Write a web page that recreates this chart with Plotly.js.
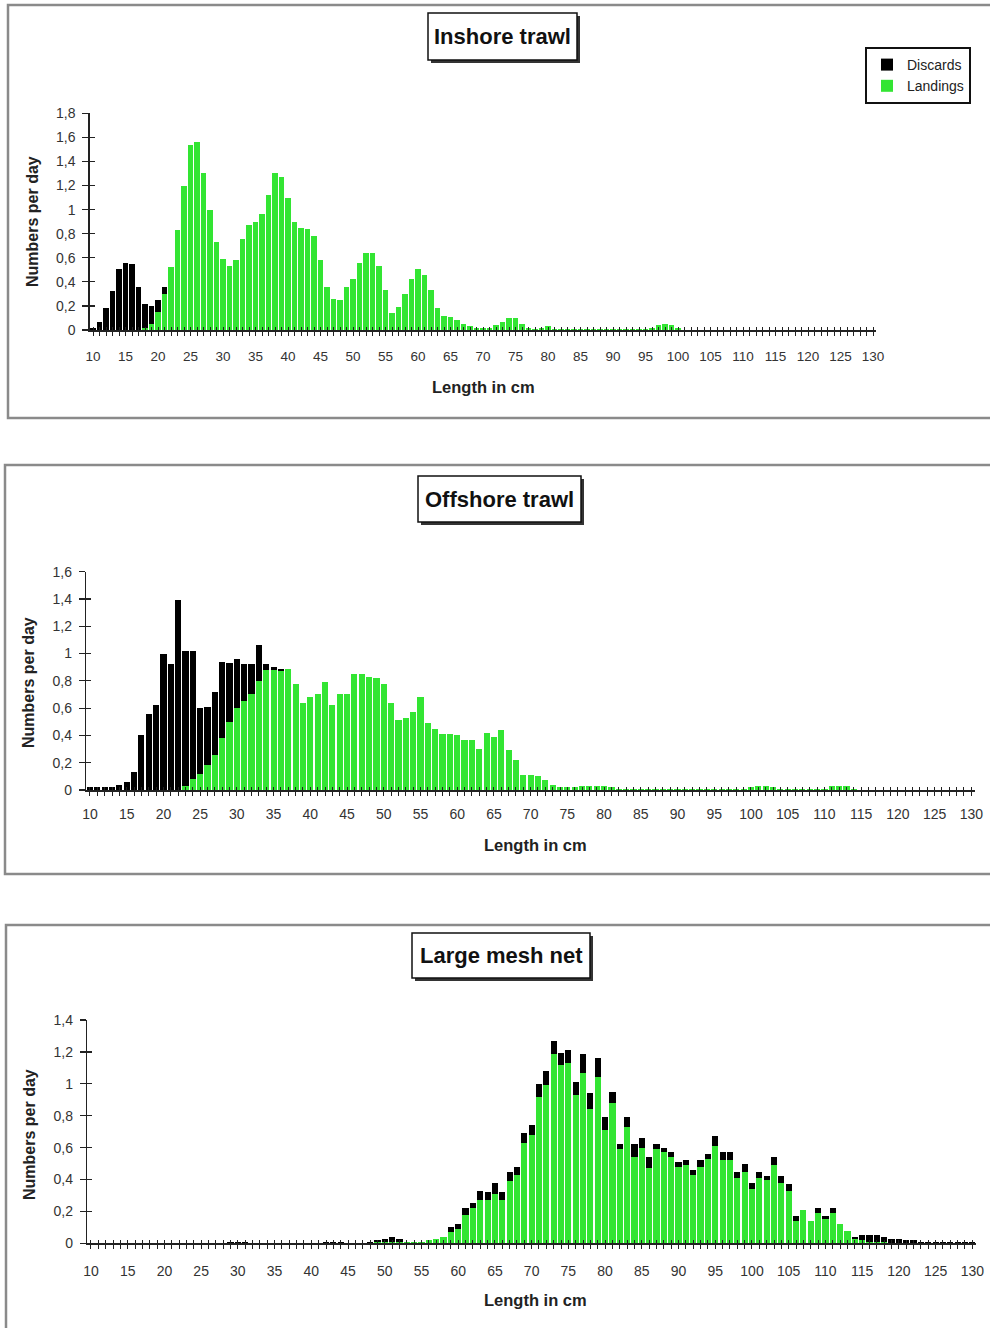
<!DOCTYPE html>
<html><head><meta charset="utf-8">
<script src="https://cdn.plot.ly/plotly-3.0.1.min.js"></script>
<style>html,body{margin:0;padding:0;background:#fff}#chart{width:990px;height:1328px}</style>
</head><body><div id="chart"></div>
<script>
// Length classes (cm)
const lengths = [10,11,12,13,14,15,16,17,18,19,20,21,22,23,24,25,26,27,28,29,30,31,32,33,34,35,36,37,38,39,40,41,42,43,44,45,46,47,48,49,50,51,52,53,54,55,56,57,58,59,60,61,62,63,64,65,66,67,68,69,70,71,72,73,74,75,76,77,78,79,80,81,82,83,84,85,86,87,88,89,90,91,92,93,94,95,96,97,98,99,100,101,102,103,104,105,106,107,108,109,110,111,112,113,114,115,116,117,118,119,120,121,122,123,124,125,126,127,128,129,130];

// Inshore trawl
const inshoreLandings = [
 0,0,0,0,0,0,0,0,0.02,0.05,
 0.15,0.3,0.52,0.83,1.2,1.54,1.56,1.3,1.0,0.73,
 0.59,0.53,0.58,0.76,0.87,0.9,0.96,1.12,1.3,1.27,
 1.1,0.9,0.85,0.84,0.78,0.58,0.36,0.26,0.25,0.36,
 0.42,0.56,0.64,0.64,0.53,0.33,0.14,0.19,0.3,0.42,
 0.51,0.46,0.33,0.18,0.12,0.11,0.08,0.05,0.03,0.02,
 0.02,0.02,0.04,0.07,0.1,0.1,0.05,0.02,0.01,0.02,
 0.03,0.01,0.01,0.01,0.01,0.01,0.01,0.01,0.01,0.01,
 0.01,0.01,0.01,0.01,0.01,0.01,0.02,0.04,0.05,0.04,
 0.02,0,0,0,0,0,0,0,0,0,
 0,0,0,0,0,0,0,0,0,0,
 0,0,0,0,0,0,0,0,0,0,
 0];
const inshoreDiscards = [
 0.02,0.07,0.18,0.32,0.51,0.56,0.55,0.36,0.2,0.15,
 0.1,0.06,0,0,0,0,0,0,0,0,
 0,0,0,0,0,0,0,0,0,0,
 0,0,0,0,0,0,0,0,0,0,
 0,0,0,0,0,0,0,0,0,0,
 0,0,0,0,0,0,0,0,0,0,
 0,0,0,0,0,0,0,0,0,0,
 0,0,0,0,0,0,0,0,0,0,
 0,0,0,0,0,0,0,0,0,0,
 0,0,0,0,0,0,0,0,0,0,
 0,0,0,0,0,0,0,0,0,0,
 0,0,0,0,0,0,0,0,0,0,
 0];

// Offshore trawl
const offshoreLandings = [
 0,0,0,0,0,0,0,0,0,0,
 0,0,0,0.03,0.08,0.12,0.18,0.26,0.38,0.5,
 0.6,0.65,0.7,0.8,0.88,0.88,0.87,0.89,0.78,0.64,
 0.68,0.7,0.79,0.62,0.7,0.7,0.85,0.85,0.83,0.82,
 0.78,0.64,0.51,0.53,0.57,0.68,0.49,0.45,0.41,0.41,
 0.4,0.37,0.37,0.3,0.42,0.39,0.44,0.29,0.22,0.11,
 0.11,0.1,0.07,0.04,0.02,0.02,0.02,0.03,0.03,0.03,
 0.03,0.02,0.01,0.01,0.01,0.01,0.01,0.01,0.01,0.01,
 0.01,0.01,0.01,0.01,0.01,0.01,0.01,0.01,0.01,0.01,
 0.02,0.03,0.03,0.02,0.01,0.01,0.01,0.01,0.01,0.01,
 0.01,0.03,0.03,0.03,0.01,0,0,0,0,0,
 0,0,0,0,0,0,0,0,0,0,
 0];
const offshoreDiscards = [
 0.02,0.02,0.02,0.02,0.04,0.06,0.13,0.4,0.56,0.62,
 1.0,0.92,1.39,0.99,0.94,0.48,0.43,0.46,0.56,0.43,
 0.36,0.27,0.22,0.26,0.04,0.02,0.02,0,0,0,
 0,0,0,0,0,0,0,0,0,0,
 0,0,0,0,0,0,0,0,0,0,
 0,0,0,0,0,0,0,0,0,0,
 0,0,0,0,0,0,0,0,0,0,
 0,0,0,0,0,0,0,0,0,0,
 0,0,0,0,0,0,0,0,0,0,
 0,0,0,0,0,0,0,0,0,0,
 0,0,0,0,0,0,0,0,0,0,
 0,0,0,0,0,0,0,0,0,0,
 0];

// Large mesh net
const meshLandings = [
 0,0,0,0,0,0,0,0,0,0,
 0,0,0,0,0,0,0,0,0,0,
 0,0,0,0,0,0,0,0,0,0,
 0,0,0,0,0,0,0,0,0,0.01,
 0.01,0.01,0.01,0.01,0.01,0.01,0.02,0.03,0.04,0.07,
 0.09,0.18,0.22,0.27,0.27,0.31,0.27,0.39,0.43,0.63,
 0.68,0.92,0.99,1.19,1.12,1.13,0.93,1.07,0.84,1.04,
 0.71,0.88,0.59,0.73,0.54,0.6,0.47,0.59,0.57,0.54,
 0.48,0.49,0.43,0.48,0.53,0.61,0.52,0.52,0.41,0.45,
 0.34,0.41,0.4,0.49,0.38,0.33,0.14,0.21,0.14,0.19,
 0.15,0.19,0.12,0.08,0.03,0.02,0.01,0.01,0.01,0,
 0,0,0,0,0,0,0,0,0,0,
 0];
const meshDiscards = [
 0,0,0,0,0,0,0,0,0,0,
 0,0,0,0,0,0,0,0,0,0.01,
 0.01,0.01,0,0,0,0,0,0,0,0,
 0,0,0.01,0.01,0.01,0,0,0,0.01,0.01,
 0.02,0.03,0.02,0,0,0,0,0,0,0.03,
 0.03,0.04,0.03,0.06,0.05,0.07,0.05,0.06,0.05,0.06,
 0.06,0.08,0.09,0.08,0.07,0.08,0.08,0.12,0.1,0.12,
 0.08,0.07,0.03,0.06,0.08,0.06,0.07,0.03,0.03,0.03,
 0.03,0.03,0.03,0.04,0.03,0.06,0.05,0.05,0.04,0.05,
 0.04,0.04,0.02,0.05,0.04,0.04,0.03,0,0,0.03,
 0.02,0.03,0,0,0.01,0.03,0.04,0.04,0.03,0.03,
 0.03,0.02,0.02,0.01,0.01,0.01,0.01,0.01,0.01,0.01,
 0.01];

// Tick labels
const xLabelVals = [10,15,20,25,30,35,40,45,50,55,60,65,70,75,80,85,90,95,100,105,110,115,120,125,130];
const yTickVals1 = [0,0.2,0.4,0.6,0.8,1,1.2,1.4,1.6,1.8];
const yTickText1 = ['0','0,2','0,4','0,6','0,8','1','1,2','1,4','1,6','1,8'];
const yTickVals2 = [0,0.2,0.4,0.6,0.8,1,1.2,1.4,1.6];
const yTickText2 = ['0','0,2','0,4','0,6','0,8','1','1,2','1,4','1,6'];
const yTickVals3 = [0,0.2,0.4,0.6,0.8,1,1.2,1.4];
const yTickText3 = ['0','0,2','0,4','0,6','0,8','1','1,2','1,4'];

const panelTitles = ['Inshore trawl','Offshore trawl','Large mesh net'];
const seriesNames = ['Discards','Landings'];
const xTitle = 'Length in cm';
const yTitle = 'Numbers per day';

const W = 990, H = 1328;
const FONT = 'Liberation Sans, Arial, sans-serif';
const GREEN = '#33e533';
const px = x => x / W;
const py = y => 1 - y / H;

const xTickText = lengths.map(v => xLabelVals.includes(v) ? String(v) : '');

const panels = [
  {L: inshoreLandings, D: inshoreDiscards, yv: yTickVals1, yt: yTickText1, ymax: 1.8,
   xd: [89.75, 876.25], yd: [330, 113.3], frame: [8, 5, 1000, 418],
   tbox: [428, 13, 577, 60], ytp: [33, 222], xtp: [483, 387], fs: 13.5, xso: 9},
  {L: offshoreLandings, D: offshoreDiscards, yv: yTickVals2, yt: yTickText2, ymax: 1.6,
   xd: [86.3, 975], yd: [790, 571.7], frame: [5, 465, 1000, 874],
   tbox: [418, 476, 581, 522], ytp: [29, 683], xtp: [535, 845], fs: 14, xso: 7},
  {L: meshLandings, D: meshDiscards, yv: yTickVals3, yt: yTickText3, ymax: 1.4,
   xd: [87.3, 976], yd: [1243.3, 1020], frame: [6, 925, 1000, 1340],
   tbox: [412, 933, 590, 978], ytp: [29, 1135], xtp: [535, 1300], fs: 14, xso: 10}
];

const traces = [];
const layout = {
  width: W, height: H, margin: {l:0, r:0, t:0, b:0},
  paper_bgcolor: '#fff', plot_bgcolor: 'rgba(0,0,0,0)',
  barmode: 'stack', bargap: 0.16,
  showlegend: true,
  legend: {x: px(865), y: py(47), xanchor: 'left', yanchor: 'top',
    bordercolor: '#111', borderwidth: 2, bgcolor: '#fff',
    font: {family: FONT, size: 14, color: '#222'}, traceorder: 'reversed',
    itemwidth: 30, tracegroupgap: 0},
  shapes: [], annotations: []
};

panels.forEach((p, i) => {
  const n = i + 1, m = i + 4;
  const xa = 'x' + (n === 1 ? '' : n), ya = 'y' + (n === 1 ? '' : n);
  traces.push({type: 'bar', x: lengths, y: p.L, name: seriesNames[1], xaxis: xa, yaxis: ya,
    marker: {color: GREEN, line: {width: 0}}, showlegend: n === 1, legendgroup: 'L', hoverinfo: 'x+y'});
  traces.push({type: 'bar', x: lengths, y: p.D, name: seriesNames[0], xaxis: xa, yaxis: ya,
    marker: {color: '#000', line: {width: 0}}, showlegend: n === 1, legendgroup: 'D', hoverinfo: 'x+y'});
  // dummy trace for overlay axes producing crossing ticks
  traces.push({type: 'scatter', x: [lengths[0]], y: [0], xaxis: 'x' + m, yaxis: 'y' + m,
    mode: 'markers', marker: {opacity: 0}, showlegend: false, hoverinfo: 'skip'});

  const common = {showgrid: false, zeroline: false, fixedrange: true};
  layout['xaxis' + (n === 1 ? '' : n)] = Object.assign({}, common, {
    domain: [px(p.xd[0]), px(p.xd[1])], range: [9.5, 130.5], anchor: ya,
    tickmode: 'array', tickvals: lengths, ticktext: xTickText,
    ticks: 'outside', ticklen: 4, tickwidth: 1, tickcolor: '#222',
    showline: true, linecolor: '#222', linewidth: 1.5,
    ticklabelstandoff: p.xso, ticklabeloverflow: 'allow',
    tickfont: {family: FONT, size: p.fs, color: '#333'}
  });
  layout['yaxis' + (n === 1 ? '' : n)] = Object.assign({}, common, {
    domain: [py(p.yd[0]), py(p.yd[1])], range: [0, p.ymax], anchor: xa,
    tickmode: 'array', tickvals: p.yv, ticktext: p.yt,
    ticks: 'outside', ticklen: 6, tickwidth: 1.2, tickcolor: '#222',
    showline: true, linecolor: '#222', linewidth: 1.5,
    ticklabelstandoff: 4,
    tickfont: {family: FONT, size: 14, color: '#333'}
  });
  layout['xaxis' + m] = Object.assign({}, common, {
    overlaying: xa, anchor: ya, range: [9.5, 130.5],
    tickmode: 'array', tickvals: lengths, ticks: 'inside', ticklen: 3, tickwidth: 1,
    tickcolor: '#222', showticklabels: false, showline: false
  });
  layout['yaxis' + m] = Object.assign({}, common, {
    overlaying: ya, anchor: xa, range: [0, p.ymax],
    tickmode: 'array', tickvals: p.yv, ticks: 'inside', ticklen: 5, tickwidth: 1.2,
    tickcolor: '#222', showticklabels: false, showline: false
  });

  // panel frame
  layout.shapes.push({type: 'rect', xref: 'paper', yref: 'paper', layer: 'below',
    x0: px(p.frame[0]), x1: px(p.frame[2]), y0: py(p.frame[1]), y1: py(p.frame[3]),
    line: {color: '#8a8a8a', width: 2.5}, fillcolor: 'rgba(0,0,0,0)'});
  // title box shadow + box
  const b = p.tbox;
  layout.shapes.push({type: 'rect', xref: 'paper', yref: 'paper', layer: 'above',
    x0: px(b[0] + 3), x1: px(b[2] + 3), y0: py(b[1] + 3), y1: py(b[3] + 3),
    line: {width: 0}, fillcolor: '#333'});
  layout.shapes.push({type: 'rect', xref: 'paper', yref: 'paper', layer: 'above',
    x0: px(b[0]), x1: px(b[2]), y0: py(b[1]), y1: py(b[3]),
    line: {color: '#111', width: 1.5}, fillcolor: '#fff'});
  layout.annotations.push({xref: 'paper', yref: 'paper', x: px((b[0] + b[2]) / 2), y: py((b[1] + b[3]) / 2),
    text: '<b>' + panelTitles[i] + '</b>', showarrow: false, xanchor: 'center', yanchor: 'middle',
    font: {family: FONT, size: 22, color: '#111'}});
  // axis titles
  layout.annotations.push({xref: 'paper', yref: 'paper', x: px(p.ytp[0]), y: py(p.ytp[1]),
    text: '<b>' + yTitle + '</b>', showarrow: false, textangle: -90, xanchor: 'center', yanchor: 'middle',
    font: {family: FONT, size: 16, color: '#222'}});
  layout.annotations.push({xref: 'paper', yref: 'paper', x: px(p.xtp[0]), y: py(p.xtp[1]),
    text: '<b>' + xTitle + '</b>', showarrow: false, xanchor: 'center', yanchor: 'middle',
    font: {family: FONT, size: 16.5, color: '#222'}});
});

Plotly.newPlot('chart', traces, layout, {displayModeBar: false, staticPlot: true});
</script>
</body></html>
